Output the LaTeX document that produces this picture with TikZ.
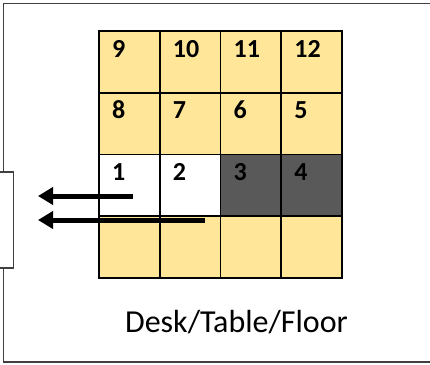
\documentclass[tikz,border=0pt]{standalone}
\usepackage{fontspec}
\setmainfont{Carlito}
\usetikzlibrary{arrows.meta}
\definecolor{cellyellow}{HTML}{FFE699}
\definecolor{celldark}{HTML}{595959}
\definecolor{framegray}{HTML}{404040}
\tikzset{
  cellbox/.style={draw=black, line width=1.8pt, minimum width=61pt, minimum height=62pt, inner sep=0pt, anchor=north west},
  numtext/.style={anchor=base west, inner sep=0pt, font=\fontsize{26}{26}\selectfont\bfseries},
  framel/.style={draw=framegray, line width=1.6pt},
  bigarrow/.style={line width=5pt, -{Triangle[length=15pt, width=17pt]}}
}
\begin{document}
\begin{tikzpicture}[x=1pt,y=-1pt]
\useasboundingbox (0,0) rectangle (430,364);
% frame
\draw[framel] (430,3.5) -- (3.5,3.5) -- (3.5,172);
\draw[framel] (0,172) -- (13.5,172) -- (13.5,268) -- (0,268);
\draw[framel] (3.5,268) -- (3.5,362) -- (430,362);
\node[inner sep=0pt] (side) at (6.75,220) {};
% grid cells: rows top to bottom
\foreach \name/\col/\row/\fillc in {
  c9/0/0/cellyellow, c10/1/0/cellyellow, c11/2/0/cellyellow, c12/3/0/cellyellow,
  c8/0/1/cellyellow, c7/1/1/cellyellow, c6/2/1/cellyellow, c5/3/1/cellyellow,
  c1/0/2/white, c2/1/2/white, c3/2/2/celldark, c4/3/2/celldark,
  e1/0/3/cellyellow, e2/1/3/cellyellow, e3/2/3/cellyellow, e4/3/3/cellyellow} {
  \node[cellbox, fill=\fillc] (\name) at ({98+60.75*\col},{30+61.75*\row}) {};
}
\foreach \name/\lab in {c9/9, c10/10, c11/11, c12/12, c8/8, c7/7, c6/6, c5/5, c1/1, c2/2, c3/3, c4/4} {
  \node[numtext] (n\name) at ([xshift=14pt,yshift=-27pt]\name.north west) {\lab};
}
% arrows
\coordinate (a1s) at (133,196);
\coordinate (a1e) at (38,196);
\coordinate (a2s) at (205,220);
\coordinate (a2e) at (38,220);
\draw[bigarrow] (a1s) -- (a1e);
\draw[bigarrow] (a2s) -- (a2e);
% label
\node[font=\fontsize{32}{32}\selectfont] (desk) at (236.5,322) {Desk/Table/Floor};
\end{tikzpicture}
\end{document}
